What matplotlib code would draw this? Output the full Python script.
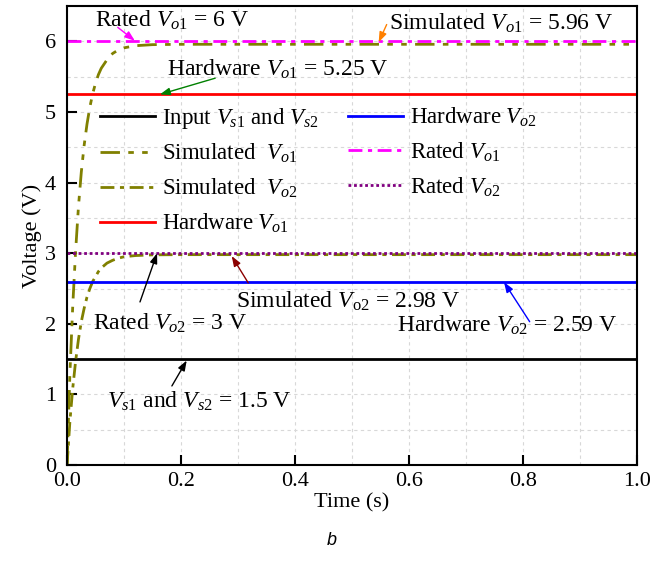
import matplotlib
matplotlib.use('Agg')
import matplotlib.pyplot as plt
from matplotlib.ticker import MultipleLocator

plt.rcParams['font.family'] = ['Liberation Serif', 'DejaVu Serif']
plt.rcParams['mathtext.fontset'] = 'custom'
plt.rcParams['mathtext.rm'] = 'Liberation Serif'
plt.rcParams['mathtext.it'] = 'Liberation Serif:italic'

# levels (V)
v_in = 1.5
hw_vo1 = 5.25
hw_vo2 = 2.59
rated_vo1 = 6.0
rated_vo2 = 3.0

# simulated transients
t_sim = [0, 0.005, 0.01, 0.015, 0.02, 0.025, 0.03, 0.035, 0.04, 0.045, 0.05, 0.055, 0.06, 0.07, 0.08,
         0.09, 0.10, 0.12, 0.15, 0.20, 0.4, 0.6, 0.8, 1.0]
sim_vo1 = [0, 1.30, 2.26, 3.03, 3.66, 4.15, 4.53, 4.83, 5.07, 5.26, 5.41, 5.53, 5.62, 5.74, 5.83,
           5.88, 5.91, 5.94, 5.955, 5.96, 5.96, 5.96, 5.96, 5.96]
sim_vo2 = [0, 0.62, 1.09, 1.47, 1.78, 2.03, 2.22, 2.38, 2.50, 2.60, 2.67, 2.74, 2.79, 2.86, 2.90,
           2.93, 2.95, 2.967, 2.977, 2.98, 2.98, 2.98, 2.98, 2.98]

t_span = [0, 1.0]

fig = plt.figure(figsize=(6.64, 5.62), dpi=100)
ax = fig.add_axes([0.101, 0.1726, 0.858, 0.8164])

l_in, = ax.plot(t_span, [v_in, v_in], color='black', lw=2, label='Input $V_{\\mathit{s1}}$ and $V_{\\mathit{s2}}$')
l_s1, = ax.plot(t_sim, sim_vo1, color='#808000', lw=2, ls=(0, (7, 3, 2, 3, 2, 3)), label='Simulated  $V_{\\mathit{o1}}$')
l_s2, = ax.plot(t_sim, sim_vo2, color='#808000', lw=2, ls=(0, (5, 2, 1.5, 2)), label='Simulated  $V_{\\mathit{o2}}$')
l_h1, = ax.plot(t_span, [hw_vo1, hw_vo1], color='#FF0000', lw=2, label='Hardware $V_{\\mathit{o1}}$')
l_h2, = ax.plot(t_span, [hw_vo2, hw_vo2], color='#0000FF', lw=2, label='Hardware $V_{\\mathit{o2}}$')
l_r1, = ax.plot(t_span, [rated_vo1, rated_vo1], color='#FF00FF', lw=2, ls=(0, (5, 2, 1.5, 2)), label='Rated $V_{\\mathit{o1}}$')
l_r2, = ax.plot(t_span, [rated_vo2, rated_vo2], color='#800080', lw=2, ls=(0, (1, 1)), label='Rated $V_{\\mathit{o2}}$')

ax.set_xlim(0, 1.0)
ax.set_ylim(0, 6.5)
ax.xaxis.set_minor_locator(MultipleLocator(0.1))
ax.yaxis.set_major_locator(MultipleLocator(1))
ax.yaxis.set_minor_locator(MultipleLocator(0.5))
ax.set_xticks([0.0, 0.2, 0.4, 0.6, 0.8, 1.0])
ax.set_xticklabels(['0.0', '0.2', '0.4', '0.6', '0.8', '1.0'])
ax.tick_params(which='major', direction='in', length=7, width=1.5, labelsize=16, top=False, right=False)
ax.tick_params(axis='y', pad=8)
ax.tick_params(axis='x', pad=5)
ax.tick_params(which='minor', length=0)
ax.grid(which='both', color='#d8d8d8', ls=(0, (3, 3)), lw=0.8)
for s in ax.spines.values():
    s.set_linewidth(1.5)

ax.set_xlabel('Time (s)', fontsize=16, labelpad=2)
ax.set_ylabel('Voltage (V)', fontsize=16, labelpad=2)

leg = ax.legend(handles=[l_in, l_s1, l_s2, l_h1, l_h2, l_r1, l_r2], ncol=2, frameon=False,
                loc='upper left', bbox_to_anchor=(0.042, 0.803), fontsize=16.5,
                handlelength=2.4, columnspacing=1.3, labelspacing=0.5, handletextpad=0.3,
                borderaxespad=0)

fs = 17
texts = [
    ('Rated $V_{\\mathit{o1}}$ = 6 V', 0.049, 6.21),
    ('Simulated $V_{\\mathit{o1}}$ = 5.96 V', 0.565, 6.17),
    ('Hardware $V_{\\mathit{o1}}$ = 5.25 V', 0.175, 5.52),
    ('Rated $V_{\\mathit{o2}}$ = 3 V', 0.046, 1.915),
    ('Simulated $V_{\\mathrm{o2}}$ = 2.98 V', 0.296, 2.23),
    ('Hardware $V_{\\mathit{o2}}$ = 2.59 V', 0.579, 1.89),
    ('$V_{\\mathit{s1}}$ and $V_{\\mathit{s2}}$ = 1.5 V', 0.07, 0.81),
]
for s, x, y in texts:
    ax.text(x, y, s, fontsize=fs, va='baseline', ha='left')

arrows = [
    ((0.119, 6.01), (0.089, 6.20), '#FF00FF'),
    ((0.547, 5.99), (0.561, 6.24), '#FF8000'),
    ((0.163, 5.25), (0.26, 5.48), '#008000'),
    ((0.158, 3.0), (0.128, 2.31), 'black'),
    ((0.289, 2.96), (0.318, 2.58), '#8B0000'),
    ((0.767, 2.59), (0.812, 2.03), '#0000FF'),
    ((0.21, 1.48), (0.184, 1.12), 'black'),
]
for head, tail, c in arrows:
    ax.annotate('', xy=head, xytext=tail,
                arrowprops=dict(arrowstyle='-|>,head_length=0.6,head_width=0.22', color=c, lw=1,
                                shrinkA=0, shrinkB=0))

fig.text(0.5, 0.03, 'b', fontsize=13, style='italic', family='Liberation Sans', ha='center')

fig.savefig('out.png', dpi=100)
